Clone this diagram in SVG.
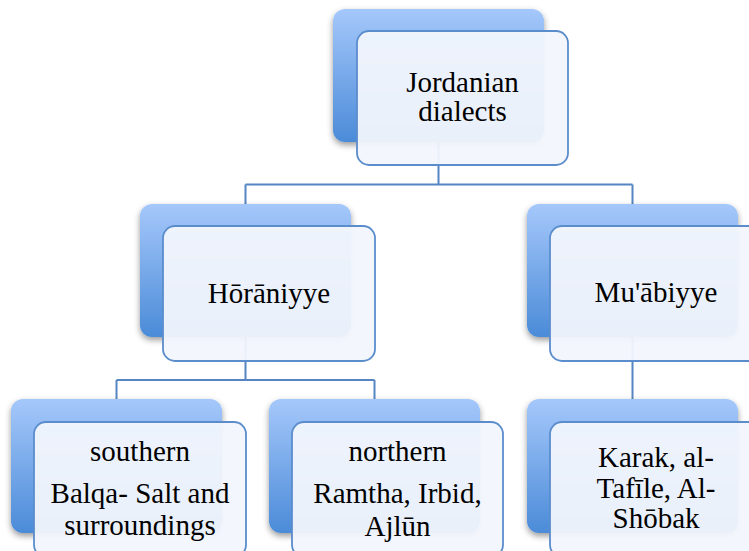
<svg xmlns="http://www.w3.org/2000/svg" width="749" height="551" viewBox="0 0 749 551">
<defs>
<linearGradient id="bg" x1="0" y1="0" x2="0" y2="1">
<stop offset="0" stop-color="#a5c8fb"/>
<stop offset="1" stop-color="#4b8bd8"/>
</linearGradient>
<filter id="sh" x="-10%" y="-10%" width="125%" height="130%">
<feDropShadow dx="0" dy="3" stdDeviation="3" flood-color="#000" flood-opacity="0.4"/>
</filter>
<style>
.back{fill:url(#bg);filter:url(#sh)}
.front{fill:#f2f6fc;fill-opacity:0.95;stroke:#5b8dcc;stroke-width:1.8}
.conn{fill:none;stroke:#5585c3;stroke-width:2}
.t{font-family:'Liberation Serif','DejaVu Serif',serif;font-size:29px;fill:#000;text-anchor:middle}
</style>
</defs>
<rect width="749" height="551" fill="#fff"/>
<g id="connectors">
<path class="conn" d="M438.5,142 V184.5 M245.5,184.5 H632.5 M245.5,184.5 V204 M632.5,184.5 V204"/>
<path class="conn" d="M245.5,337 V380 M116.5,380 H374.5 M116.5,380 V399 M374.5,380 V399"/>
<path class="conn" d="M632.5,337 V399"/>
</g>
<g id="jordanian">
<rect class="back" x="333" y="9" width="211" height="133" rx="12"/>
<rect class="front" x="357" y="31" width="211" height="134" rx="12"/>
<text class="t" font-family="Liberation Serif, serif" x="462.5" y="92">Jordanian</text>
<text class="t" font-family="Liberation Serif, serif" x="462.5" y="121">dialects</text>
</g>
<g id="horaniyye">
<rect class="back" x="140" y="204" width="211" height="133" rx="12"/>
<rect class="front" x="163" y="226" width="212" height="135" rx="12"/>
<text class="t" font-family="Liberation Serif, serif" x="269" y="303">Hōrāniyye</text>
</g>
<g id="muabiyye">
<rect class="back" x="527" y="204" width="211" height="133" rx="12"/>
<rect class="front" x="550" y="226" width="212" height="135" rx="12"/>
<text class="t" font-family="Liberation Serif, serif" x="656" y="302">Mu'ābiyye</text>
</g>
<g id="southern">
<rect class="back" x="11" y="399" width="211" height="134" rx="12"/>
<rect class="front" x="34" y="422" width="212" height="135" rx="12"/>
<text class="t" font-family="Liberation Serif, serif" x="140" y="461">southern</text>
<text class="t" font-family="Liberation Serif, serif" x="140" y="503">Balqa- Salt and</text>
<text class="t" font-family="Liberation Serif, serif" x="140" y="535">surroundings</text>
</g>
<g id="northern">
<rect class="back" x="269" y="399" width="211" height="134" rx="12"/>
<rect class="front" x="292" y="422" width="211" height="135" rx="12"/>
<text class="t" font-family="Liberation Serif, serif" x="397.5" y="461">northern</text>
<text class="t" font-family="Liberation Serif, serif" x="397.5" y="503">Ramtha, Irbid,</text>
<text class="t" font-family="Liberation Serif, serif" x="397.5" y="535.5">Ajlūn</text>
</g>
<g id="karak">
<rect class="back" x="527" y="399" width="211" height="134" rx="12"/>
<rect class="front" x="550" y="422" width="212" height="135" rx="12"/>
<text class="t" font-family="Liberation Serif, serif" x="656" y="466.5">Karak, al-</text>
<text class="t" font-family="Liberation Serif, serif" x="656" y="497.5">Tafīle, Al-</text>
<text class="t" font-family="Liberation Serif, serif" x="656" y="528">Shōbak</text>
</g>
</svg>
